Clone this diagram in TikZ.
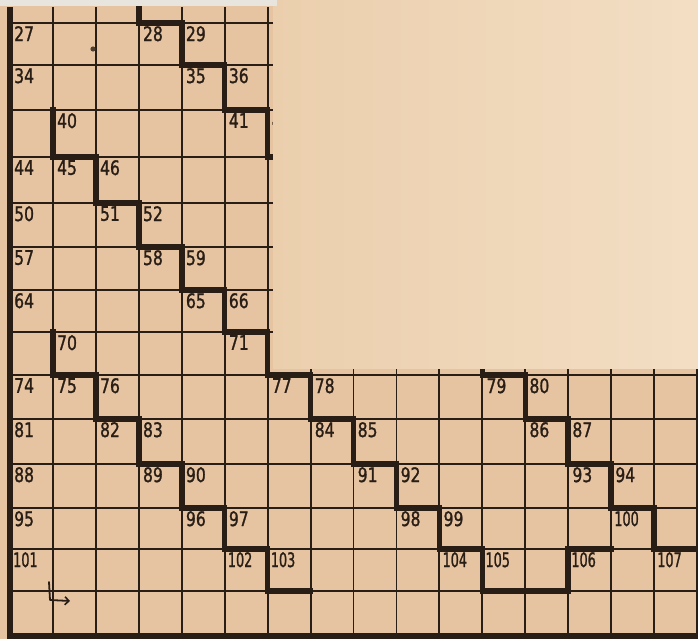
\documentclass[tikz,border=0pt]{standalone}
\usepackage{fontspec}
\usetikzlibrary{arrows.meta}
\newfontfamily\hand[FakeStretch=0.78,FakeBold=1.2]{DejaVu Sans}
\newfontfamily\handn[FakeStretch=0.64,FakeBold=1.2]{DejaVu Sans}
\definecolor{paper}{RGB}{231,196,161}
\definecolor{coverL}{RGB}{235,207,173}
\definecolor{coverR}{RGB}{243,222,196}
\definecolor{ink}{RGB}{40,30,22}
\definecolor{strip}{RGB}{232,228,222}
\tikzset{
  gridline/.style={draw=ink, line width=1.9pt},
  stair/.style={draw=ink, line width=5.5pt, line cap=rect, line join=miter},
  border/.style={draw=ink, line width=6pt},
  num/.style={anchor=north west, inner sep=0pt, text=ink, font=\hand\fontsize{20}{20}\selectfont},
  numw/.style={num, font=\handn\fontsize{20}{20}\selectfont},
  pen/.style={draw=ink, line width=1.8pt, line cap=round, line join=round}
}
\begin{document}
\begin{tikzpicture}[x=1pt,y=-1pt]
\useasboundingbox (0,0) rectangle (698,639);
\fill[paper] (0,0) rectangle (698,639);
% grid coordinates
\foreach \yy [count=\j from 0] in {7,23,65,110,157,203,247,290,332,375,419,464,508,549,591,635} {
  \foreach \i in {0,...,16} {
    \coordinate (g-\i-\j) at ({10+42.94*\i}, \yy);
  }
}
% grid lines
\foreach \j in {1,...,14} { \draw[gridline] (g-0-\j) -- (g-16-\j); }
\foreach \i in {1,...,16} { \draw[gridline] (g-\i-0) -- (g-\i-15); }
% staircases
\coordinate (aend) at (693,549);
\draw[stair] (g-3-0) -- (g-3-1) -- (g-4-1) -- (g-4-2) -- (g-5-2) -- (g-5-3) -- (g-6-3) -- (g-6-4)
  -- (g-7-4) -- (g-7-5) -- (g-8-5) -- (g-8-6) -- (g-9-6) -- (g-9-7) -- (g-10-7) -- (g-10-8)
  -- (g-11-8) -- (g-11-9) -- (g-12-9) -- (g-12-10) -- (g-13-10) -- (g-13-11) -- (g-14-11)
  -- (g-14-12) -- (g-15-12) -- (g-15-13) -- (aend);
\draw[stair] (g-1-3) -- (g-1-4) -- (g-2-4) -- (g-2-5) -- (g-3-5) -- (g-3-6) -- (g-4-6) -- (g-4-7)
  -- (g-5-7) -- (g-5-8) -- (g-6-8) -- (g-6-9) -- (g-7-9) -- (g-7-10) -- (g-8-10) -- (g-8-11)
  -- (g-9-11) -- (g-9-12) -- (g-10-12) -- (g-10-13) -- (g-11-13) -- (g-11-14) -- (g-13-14)
  -- (g-13-13) -- (g-14-13);
\draw[stair] (g-1-8) -- (g-1-9) -- (g-2-9) -- (g-2-10) -- (g-3-10) -- (g-3-11) -- (g-4-11)
  -- (g-4-12) -- (g-5-12) -- (g-5-13) -- (g-6-13) -- (g-6-14) -- (g-7-14);
% labels
\foreach \c/\j/\t in {0/1/27,3/1/28,4/1/29, 0/2/34,4/2/35,5/2/36, 1/3/40,5/3/41,6/3/42,
  0/4/44,1/4/45,2/4/46, 0/5/50,2/5/51,3/5/52, 0/6/57,3/6/58,4/6/59, 0/7/64,4/7/65,5/7/66,
  1/8/70,5/8/71,6/8/72, 0/9/74,1/9/75,2/9/76,6/9/77,7/9/78,11/9/79,12/9/80,
  0/10/81,2/10/82,3/10/83,7/10/84,8/10/85,12/10/86,13/10/87,
  0/11/88,3/11/89,4/11/90,8/11/91,9/11/92,13/11/93,14/11/94,
  0/12/95,4/12/96,5/12/97,9/12/98,10/12/99} {
  \node[num] (l\t) at ([shift={(4,3)}]g-\c-\j) {\t};
}
\foreach \c/\j/\t in {14/12/100, 0/13/101,5/13/102,6/13/103,10/13/104,11/13/105,13/13/106,15/13/107} {
  \node[numw] (l\t) at ([shift={(3,3)}]g-\c-\j) {\t};
}
% hand-drawn arrow
\coordinate (ar1) at (49,582);
\coordinate (ar2) at (50,600);
\coordinate (ar3) at (70,601);
\draw[pen, -{Straight Barb[length=4pt,width=8pt,line width=1.6pt]}] (ar1) -- (ar2) -- (ar3);
% smudge
\fill[ink!80!paper] (93,49) circle (2.6);
% cover sheet
\shade[left color=coverL, right color=coverR] (273,0) rectangle (698,368);
% top strip
\fill[strip] (0,0) rectangle (277,6);
% borders
\draw[border] (10,7) -- (10,639);
\draw[border] (7,636) -- (698,636);
\end{tikzpicture}
\end{document}
